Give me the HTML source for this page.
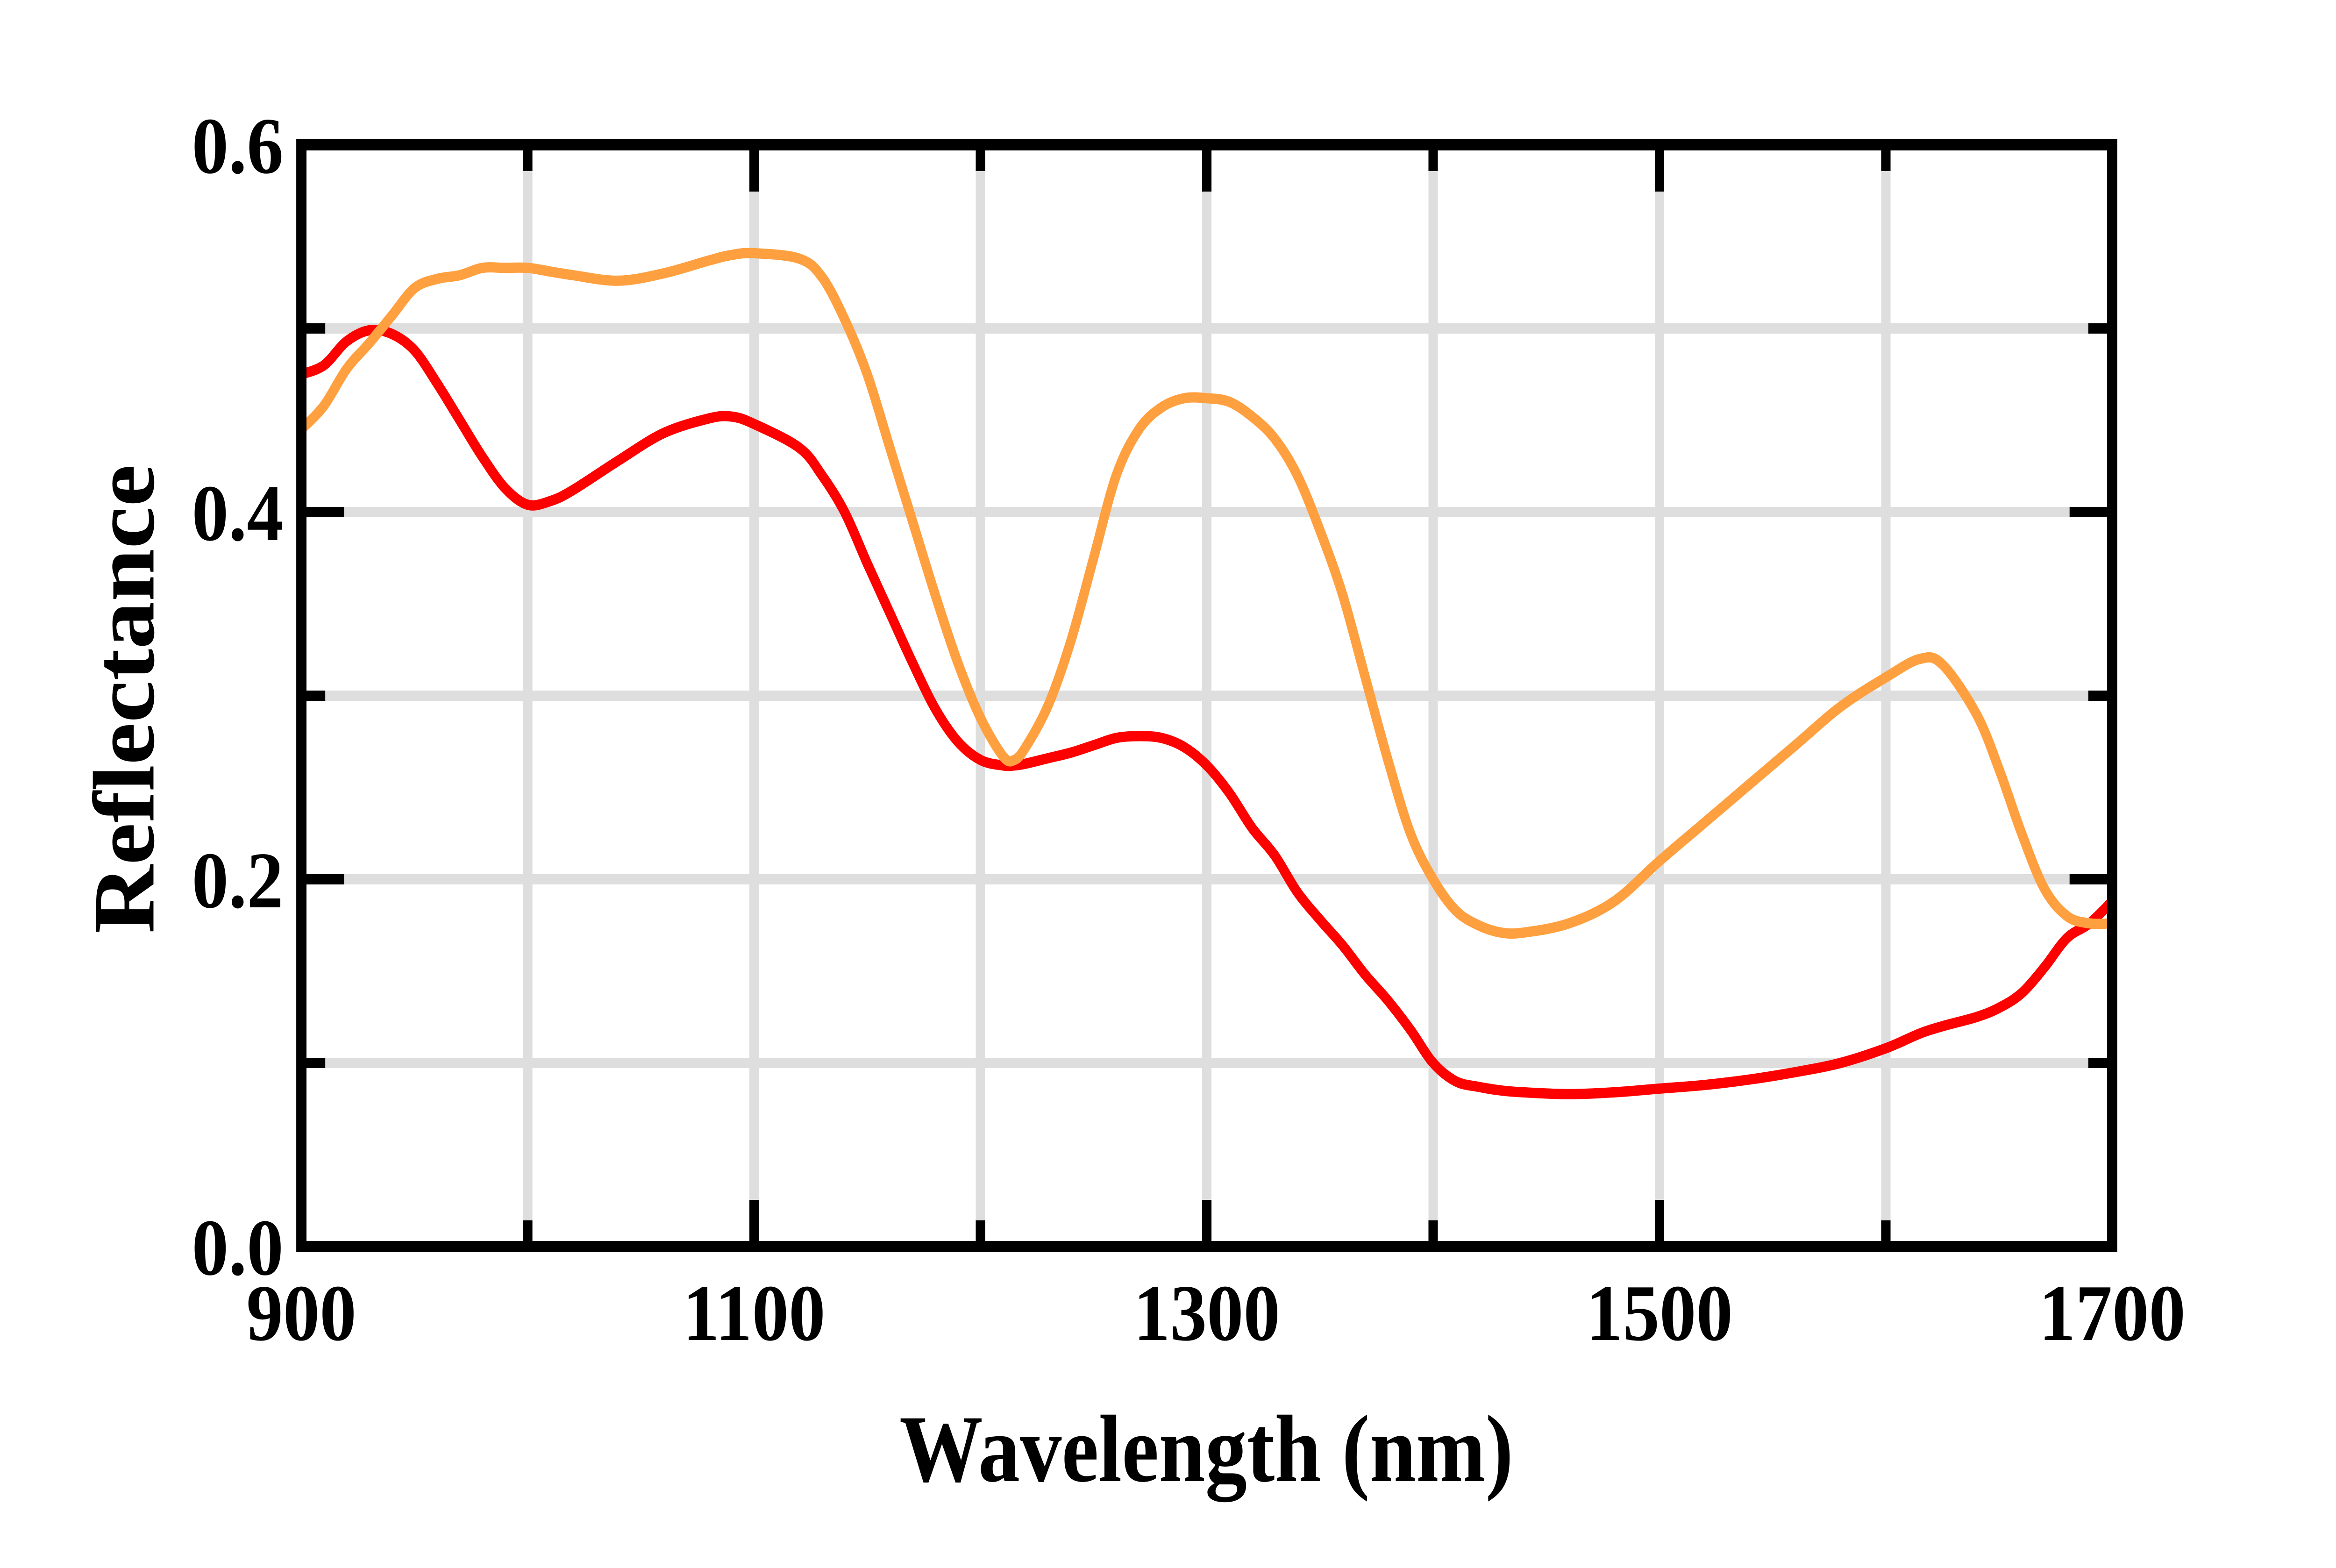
<!DOCTYPE html>
<html><head><meta charset="utf-8"><style>html,body{margin:0;padding:0;background:#fff;overflow:hidden;width:100%;height:100%}svg{display:block;width:100vw;height:100vh}</style></head>
<body>
<svg id="chart" viewBox="0 0 5480 3356" preserveAspectRatio="none" xmlns="http://www.w3.org/2000/svg" font-family="'Liberation Serif', serif" font-weight="bold">
<rect width="5480" height="3356" fill="#fff"/>
<g id="grid"></g>
<g id="series"></g>
<g id="axes"></g>
<text x="2830" y="3170" font-size="205" text-anchor="middle" textLength="1440" lengthAdjust="spacingAndGlyphs">Wavelength (nm)</text>
<text transform="translate(360,1496) rotate(-90)" font-size="205" text-anchor="middle" textLength="1004" lengthAdjust="spacingAndGlyphs">Reflectance</text>
</svg>
<script>
const wavelengths = [900,910,920,930,940,950,960,970,980,990,1000,1010,1020,1040,1060,1080,1090,1100,1120,1130,1140,1150,1160,1170,1180,1190,1200,1210,1215,1220,1230,1240,1250,1260,1270,1280,1290,1300,1310,1320,1330,1340,1350,1360,1370,1380,1390,1400,1410,1420,1430,1440,1460,1480,1500,1520,1540,1560,1580,1600,1615,1625,1640,1650,1660,1670,1680,1690,1700];
const redValues = [0.475,0.480,0.493,0.499,0.497,0.488,0.470,0.450,0.430,0.413,0.404,0.406,0.412,0.428,0.443,0.451,0.452,0.448,0.435,0.420,0.400,0.372,0.345,0.318,0.293,0.275,0.265,0.262,0.262,0.263,0.266,0.269,0.273,0.277,0.278,0.277,0.272,0.262,0.247,0.228,0.213,0.193,0.178,0.164,0.148,0.134,0.118,0.100,0.090,0.087,0.085,0.084,0.083,0.084,0.086,0.088,0.091,0.095,0.100,0.108,0.116,0.120,0.125,0.130,0.138,0.152,0.168,0.176,0.188];
const orangeValues = [0.445,0.458,0.478,0.492,0.507,0.522,0.527,0.529,0.533,0.533,0.533,0.531,0.529,0.526,0.530,0.537,0.540,0.541,0.538,0.528,0.505,0.475,0.435,0.395,0.355,0.318,0.288,0.267,0.265,0.272,0.295,0.330,0.375,0.420,0.445,0.457,0.462,0.462,0.460,0.452,0.440,0.420,0.390,0.355,0.310,0.265,0.225,0.200,0.183,0.175,0.171,0.171,0.176,0.188,0.210,0.231,0.252,0.273,0.294,0.310,0.320,0.317,0.290,0.260,0.225,0.195,0.180,0.176,0.176];
const xTicks = [900,1000,1100,1200,1300,1400,1500,1600,1700];
const xTickLabels = ["900","","1100","","1300","","1500","","1700"];
const yTicks = [0,0.1,0.2,0.3,0.4,0.5,0.6];
const yTickLabels = ["0.0","","0.2","","0.4","","0.6"];

const NS = "http://www.w3.org/2000/svg";
const X0 = 707, X1 = 4955, Y0 = 2668, Y1 = 310;
const xs = v => X0 + (v - 900) / 800 * (X1 - X0);
const ys = v => Y0 - v / 0.6 * (Y0 - Y1);
function mk(tag, parent, attrs) {
  const e = document.createElementNS(NS, tag);
  for (const k in attrs) e.setAttribute(k, attrs[k]);
  parent.appendChild(e);
  return e;
}
const grid = document.getElementById('grid');
const axes = document.getElementById('axes');
const series = document.getElementById('series');

xTicks.forEach((t, i) => {
  const x = xs(t);
  const g = mk('line', grid, {x1: x, x2: x, y1: Y1, y2: Y0, stroke: '#dedede', 'stroke-width': 22});
  
  
  const len = xTickLabels[i] ? 100 : 56;
  const a = mk('line', axes, {x1: x, x2: x, y1: Y0, y2: Y0 - len, stroke: '#000', 'stroke-width': 22});
  
  
  const b = mk('line', axes, {x1: x, x2: x, y1: Y1, y2: Y1 + len, stroke: '#000', 'stroke-width': 22});
  
  
  if (xTickLabels[i]) {
    const tx = mk('text', axes, {x: x, y: 2868, 'font-size': 172, 'text-anchor': 'middle'});
    tx.textContent = xTickLabels[i];
    
    
  }
});
yTicks.forEach((t, i) => {
  const y = ys(t);
  const g = mk('line', grid, {x1: X0, x2: X1, y1: y, y2: y, stroke: '#dedede', 'stroke-width': 22});
  
  
  const len = yTickLabels[i] ? 100 : 56;
  const a = mk('line', axes, {x1: X0, x2: X0 + len, y1: y, y2: y, stroke: '#000', 'stroke-width': 22});
  
  
  const b = mk('line', axes, {x1: X1, x2: X1 - len, y1: y, y2: y, stroke: '#000', 'stroke-width': 22});
  
  
  if (yTickLabels[i]) {
    const tx = mk('text', axes, {x: 665, y: y + 60, 'font-size': 172, 'text-anchor': 'end'});
    tx.textContent = yTickLabels[i];
    
    
  }
});
const frame = mk('rect', axes, {x: X0, y: Y1, width: X1 - X0, height: Y0 - Y1, fill: 'none', stroke: '#000', 'stroke-width': 24});



function smoothPath(vals) {
  const p = wavelengths.map((w, i) => [xs(w), ys(vals[i])]);
  let d = 'M' + p[0][0].toFixed(1) + ',' + p[0][1].toFixed(1);
  for (let i = 0; i < p.length - 1; i++) {
    const p0 = p[Math.max(0, i - 1)], p1 = p[i], p2 = p[i + 1], p3 = p[Math.min(p.length - 1, i + 2)];
    const c1 = [p1[0] + (p2[0] - p0[0]) / 6, p1[1] + (p2[1] - p0[1]) / 6];
    const c2 = [p2[0] - (p3[0] - p1[0]) / 6, p2[1] - (p3[1] - p1[1]) / 6];
    d += ' C' + c1[0].toFixed(1) + ',' + c1[1].toFixed(1) + ' ' + c2[0].toFixed(1) + ',' + c2[1].toFixed(1) + ' ' + p2[0].toFixed(1) + ',' + p2[1].toFixed(1);
  }
  return d;
}
const red = mk('path', series, {d: smoothPath(redValues), fill: 'none', stroke: '#ff0000', 'stroke-width': 22, 'stroke-linejoin': 'round'});


const orange = mk('path', series, {d: smoothPath(orangeValues), fill: 'none', stroke: '#ffa040', 'stroke-width': 22, 'stroke-linejoin': 'round'});


</script>
</body></html>
